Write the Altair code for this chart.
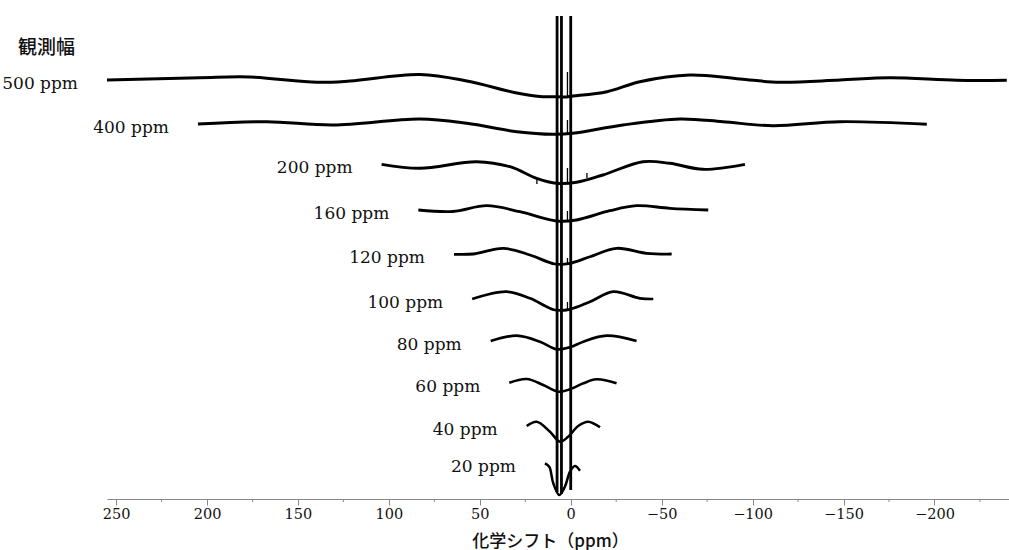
import altair as alt
import pandas as pd

# ---- data (ppm, relative intensity) ----
labels = ["500 ppm", "400 ppm", "200 ppm", "160 ppm", "120 ppm",
          "100 ppm", "80 ppm", "60 ppm", "40 ppm", "20 ppm"]

ppm_500 = [255.0, 203.9, 176.4, 139.5, 121.4, 82.9, 57.1, 29.6, 17.0, 9.8, 4.0, -1.2, -19.9, -38.0, -65.5, -93.0, -115.0, -148.0, -175.5, -212.3, -239.8]
int_500 = [419, 421.3, 422, 416.7, 418, 424.5, 418, 406, 402.5, 402.3, 402, 403, 407.3, 417.3, 424, 420, 416.7, 419, 421.3, 418.7, 418.7]

ppm_400 = [205.0, 167.0, 130.7, 82.9, 57.1, 29.6, 9.8, -1.2, -28.7, -60.0, -83.6, -111.1, -148.0, -195.8]
int_400 = [375, 377.3, 374, 380, 375.7, 367.3, 364.7, 365.7, 374, 380, 377.3, 373.3, 377.3, 374.7]

ppm_200 = [104.0, 82.9, 51.7, 33.4, 18.7, 7.8, -3.2, -17.7, -39.7, -54.5, -72.7, -95.8]
int_200 = [334.7, 330.7, 337.3, 332.3, 320.7, 315.7, 316.7, 324, 337.3, 335.7, 329.7, 334.7]

ppm_160 = [83.8, 64.8, 46.2, 27.9, 7.8, -3.2, -21.5, -36.2, -54.5, -75.6]
int_160 = [289, 287.5, 293.3, 287.3, 278, 279, 288.3, 293.3, 290.7, 289]

ppm_120 = [64.2, 53.6, 37.1, 22.4, 8.7, 0.4, -10.6, -25.2, -41.7, -55.5]
int_120 = [244.7, 245, 250.7, 244, 235, 235.7, 242.3, 250.7, 245.7, 245]

ppm_100 = [54.2, 35.2, 22.4, 8.7, 0.4, -10.6, -23.4, -38.0, -45.4]
int_100 = [200, 207.3, 200.7, 189, 189.7, 197.3, 207.3, 200.7, 200]

ppm_80 = [44.0, 29.7, 16.9, 7.8, 0.4, -6.9, -19.7, -36.2]
int_80 = [158, 163.3, 157.3, 149.7, 151.7, 157.3, 163.3, 158]

ppm_60 = [33.8, 24.2, 15.1, 6.9, 0.4, -6.9, -14.2, -25.2]
int_60 = [116.3, 120, 114, 107.3, 109.7, 115.7, 119.7, 115.7]

ppm_40 = [24.2, 18.7, 11.4, 5.9, 1.4, -4.1, -9.6, -16.1]
int_40 = [73, 77.3, 67.3, 57.3, 62.3, 73, 77.3, 71.7]

ppm_20 = [14.2, 11.8, 9.6, 6.3, 3.2, 0.4, -2.3, -5.1]
int_20 = [35.7, 32.3, 15.7, 4, 12.3, 27.3, 33, 28.3]

# tall (off-scale) peaks
peak_ppm = [7.5, 5.1, 0.0]
peak_low = [7, 5, 9]
peak_high = [483, 483, 483]

# small spikes on the baselines
spike_ppm = [1.8, 1.8, 1.8, 1.8, 1.8, 1.8, 18.6, -8.9]
spike_low = [402, 365, 316, 278.5, 235.5, 189.5, 321, 321]
spike_high = [427, 379, 331, 288, 241, 197, 315, 326]

major_ticks = [250, 200, 150, 100, 50, 0, -50, -100, -150, -200]
minor_ticks = [225, 175, 125, 75, 25, -25, -75, -125, -175, -225]

line_widths = [3.0, 2.5, 2.1, 1.7, 1.6, 1.6, 1.5, 1.5, 1.5, 1.6]

# ---- tables ----
series = [ppm_500, ppm_400, ppm_200, ppm_160, ppm_120, ppm_100, ppm_80, ppm_60, ppm_40, ppm_20]
values = [int_500, int_400, int_200, int_160, int_120, int_100, int_80, int_60, int_40, int_20]
rows = []
for lab, xs, ys in zip(labels, series, values):
    for i, (xv, yv) in enumerate(zip(xs, ys)):
        rows.append({"label": lab, "ppm": xv, "intensity": yv, "i": i})
df = pd.DataFrame(rows)
first = df[df["i"] == 0]

peaks = pd.DataFrame({"ppm": peak_ppm, "intensity": peak_low, "top": peak_high})
spikes = pd.DataFrame({"ppm": spike_ppm, "intensity": spike_low, "top": spike_high})
minor = pd.DataFrame({"ppm": minor_ticks})

x_scale = alt.Scale(domain=[255, -241], nice=False, zero=False)
y_scale = alt.Scale(domain=[0, 483], nice=False, zero=False)

X = alt.X("ppm:Q", scale=x_scale,
          axis=alt.Axis(values=major_ticks, format="d", grid=False,
                        title="化学シフト（ppm）",
                        titleFont="Noto Sans CJK JP", titleFontSize=17,
                        titleFontWeight=500, titleColor="#111",
                        titleX=443, titleY=42, titleBaseline="middle",
                        titleAlign="center",
                        labelFont="DejaVu Serif", labelFontSize=14.5,
                        labelColor="#111", labelPadding=2,
                        domainColor="#888", tickColor="#888",
                        tickSize=6, domainWidth=1))
Y = alt.Y("intensity:Q", scale=y_scale, axis=None)

lines = alt.Chart(df).mark_line(color="black", interpolate="catmull-rom").encode(
    x=X, y=Y,
    strokeWidth=alt.StrokeWidth("label:N", scale=alt.Scale(domain=labels, range=line_widths), legend=None),
)

peak_rules = alt.Chart(peaks).mark_rule(color="black", strokeWidth=2.8).encode(
    x=X, y=Y, y2="top:Q"
)

spike_rules = alt.Chart(spikes).mark_rule(color="black", strokeWidth=1.3).encode(
    x=X, y=Y, y2="top:Q"
)

minor_rules = alt.Chart(minor).mark_rule(color="#888", strokeWidth=1).encode(
    x=X, y=alt.value(483), y2=alt.value(486)
)

label_text = alt.Chart(first).mark_text(
    align="right", baseline="middle", dx=-29, dy=4,
    font="DejaVu Serif", fontSize=17, color="#111"
).encode(x=X, y=Y, text="label:N")

heading = alt.Chart(pd.DataFrame({"t": ["観測幅"]})).mark_text(
    align="left", baseline="middle", font="Noto Sans CJK JP", fontSize=19,
    fontWeight=500, color="#111"
).encode(x=alt.value(-89), y=alt.value(32), text="t:N")

chart = alt.layer(lines, peak_rules, spike_rules, minor_rules, label_text, heading).properties(
    width=902, height=483,
    padding={"left": 107, "top": 16, "right": 0, "bottom": 51},
    autosize=alt.AutoSizeParams(type="none"),
    background="white",
).configure_view(stroke=None)

chart.save("out.html", embed_options={"renderer": "svg", "actions": False})
